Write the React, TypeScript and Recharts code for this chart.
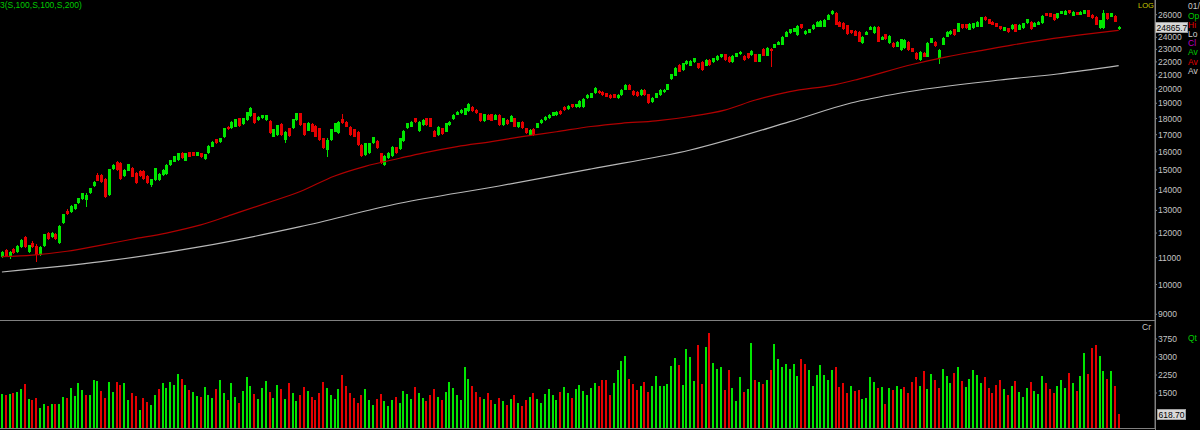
import { ComposedChart, BarChart, Bar, Line, XAxis, YAxis } from "recharts";

const GREEN = "#00e600";
const RED = "#e60000";
const AXIS_GRAY = "#808080";
const TEXT_GRAY = "#c4c4c4";
const FONT = "'Liberation Sans', Arial, sans-serif";

// open, high, low, close
const CANDLES: [number, number, number, number][] = [
  [11040, 11280, 10990, 11235], [11300, 11330, 11040, 11060], [11040, 11260, 10930, 11235], [11340, 11380, 11150, 11170],
  [11235, 11490, 11200, 11460], [11435, 11730, 11400, 11708], [11820, 11870, 11400, 11435], [11235, 11520, 11168, 11500],
  [11600, 11650, 11380, 11410], [11475, 11540, 10845, 11100], [11100, 11470, 11060, 11435], [11475, 11960, 11440, 11945],
  [12015, 12060, 11710, 11735], [11847, 12040, 11800, 12015], [11945, 11990, 11700, 11735], [11600, 12350, 11560, 12320],
  [12420, 12850, 12380, 12840], [12990, 13050, 12800, 12820], [12945, 13230, 12900, 13210], [13050, 13300, 13000, 13290],
  [13330, 13600, 13300, 13570], [13520, 13850, 13480, 13813], [13500, 13810, 13180, 13730], [13845, 14100, 13800, 14076],
  [14200, 14450, 14150, 14395], [14760, 14850, 14420, 14450], [14740, 14800, 14320, 14360], [14515, 14560, 13600, 13651],
  [13730, 15050, 13700, 15037], [15040, 15300, 15000, 15270], [15430, 15500, 14960, 15002], [15400, 15450, 14500, 14530],
  [14690, 15050, 14650, 15002], [14965, 15350, 14930, 15325], [15090, 15150, 14620, 14652], [14826, 14880, 14300, 14345],
  [14967, 15000, 14650, 14690], [14950, 15000, 14500, 14530], [14690, 14720, 14300, 14345], [14227, 14540, 14150, 14515],
  [14480, 15100, 14440, 15090], [14480, 14820, 14450, 14790], [14740, 15030, 14700, 15002], [14790, 15300, 14750, 15270],
  [15270, 15560, 15240, 15543], [15450, 15790, 15420, 15764], [15543, 15950, 15500, 15914], [15950, 15990, 15600, 15635],
  [15506, 15950, 15470, 15914], [15970, 16010, 15700, 15727], [15970, 16000, 15740, 15764], [15783, 16010, 15750, 15970],
  [15914, 15950, 15660, 15690], [15580, 15900, 15540, 15876], [15914, 16370, 15880, 16333], [16294, 16620, 16260, 16585],
  [16722, 16760, 16450, 16487], [16545, 16810, 16500, 16782], [16841, 17400, 16800, 17386], [17489, 17530, 17300, 17325],
  [17386, 17850, 17350, 17801], [17489, 17980, 17450, 17950], [18014, 18060, 17500, 17530], [17655, 18050, 17620, 18014],
  [17907, 18450, 17870, 18400], [18163, 18720, 18130, 18663], [18335, 18380, 17650, 17697], [17907, 18160, 17870, 18120],
  [18014, 18260, 17980, 18227], [17907, 18260, 17870, 18227], [17865, 17900, 17040, 17081], [16881, 17350, 16840, 17325],
  [16980, 17620, 16940, 17593], [17655, 17700, 16940, 16980], [16683, 17200, 16487, 17182], [17386, 17420, 16880, 16920],
  [17386, 17980, 17350, 17950], [17907, 18380, 17870, 18335], [18335, 18380, 17550, 17593], [17697, 17740, 16940, 16980],
  [17243, 17780, 17200, 17740], [17655, 17700, 17150, 17182], [17530, 17570, 16840, 16881], [17386, 17420, 16640, 16683],
  [16782, 16820, 16150, 16198], [16103, 16800, 15727, 16683], [16683, 17350, 16640, 17325], [17182, 17740, 17150, 17697],
  [17081, 17850, 17040, 17801], [17950, 18300, 17660, 17697], [17801, 17850, 17450, 17489], [17489, 17530, 16940, 16980],
  [17325, 17370, 16840, 16881], [17182, 17220, 16350, 16390], [16390, 16430, 15730, 15764], [15820, 16530, 15780, 16487],
  [15914, 16530, 15880, 16487], [16487, 16880, 16450, 16841], [16643, 16680, 16150, 16198], [15914, 15950, 15320, 15360],
  [15270, 15800, 15230, 15764], [15635, 15990, 15600, 15952], [15764, 16330, 15720, 16294], [16255, 16300, 15880, 15914],
  [16141, 16830, 16100, 16782], [16625, 17270, 16580, 17225], [17388, 17740, 17350, 17700], [17491, 17850, 17450, 17804],
  [18015, 18060, 17720, 17762], [17225, 17850, 17180, 17804], [17594, 17960, 17550, 17909], [18015, 18060, 17550, 17594],
  [18015, 18060, 17450, 17491], [17225, 17260, 16840, 16880], [16981, 17540, 16940, 17491], [17388, 17430, 16980, 17022],
  [17184, 17750, 17140, 17699], [17594, 17850, 17560, 17804], [17951, 18270, 17910, 18229], [18229, 18490, 18200, 18445],
  [18337, 18600, 18300, 18554], [18229, 18710, 18200, 18664], [18489, 19000, 18450, 18953], [18775, 18820, 18450, 18489],
  [18554, 18600, 18300, 18337], [18337, 18380, 17800, 17846], [17846, 18320, 17800, 18272], [18229, 18270, 17880, 17930],
  [18272, 18310, 17830, 17867], [17930, 18270, 17890, 18229], [18229, 18270, 17550, 17594], [17594, 18060, 17550, 18015],
  [17909, 17950, 17620, 17657], [17804, 18230, 17760, 18186], [18015, 18060, 17450, 17491], [17450, 17800, 17410, 17762],
  [17804, 17850, 17350, 17388], [17388, 17430, 17040, 17082], [16981, 17330, 16940, 17286], [17347, 17390, 16940, 16981],
  [17429, 17740, 17390, 17699], [17699, 17960, 17660, 17909], [17909, 18160, 17870, 18122], [18015, 18270, 17980, 18229],
  [18186, 18450, 18150, 18402], [18229, 18490, 18190, 18445], [18489, 18530, 18230, 18272], [18775, 18820, 18500, 18554],
  [18620, 18880, 18580, 18819], [18931, 18980, 18700, 18753], [18731, 18980, 18690, 18931], [18731, 19200, 18690, 19155],
  [18753, 19340, 18710, 19291], [19337, 19620, 19300, 19567], [19383, 19730, 19340, 19683], [19683, 20130, 19640, 20081],
  [19869, 19910, 19640, 19683], [19799, 19840, 19530, 19567], [19683, 19720, 19410, 19452], [19567, 19610, 19300, 19337],
  [19613, 19650, 19340, 19383], [19337, 19610, 19300, 19567], [19567, 19960, 19530, 19916], [19916, 20320, 19880, 20272],
  [20272, 20320, 19880, 19916], [19846, 19890, 19530, 19567], [19799, 19840, 19460, 19498], [19567, 19960, 19530, 19916],
  [19916, 19960, 19530, 19567], [19613, 19650, 18950, 18998], [19064, 19430, 19020, 19383], [19383, 19730, 19340, 19683],
  [19567, 19960, 19530, 19916], [19755, 19960, 19720, 19916], [19916, 20370, 19880, 20320], [20683, 21100, 20640, 21051],
  [20953, 21600, 20910, 21553], [21759, 21800, 21210, 21251], [21376, 21940, 21330, 21887], [21810, 22120, 21770, 22069],
  [21708, 22120, 21660, 22069], [21965, 22330, 21920, 22278], [21887, 21930, 21460, 21503], [22017, 22060, 21330, 21376],
  [21708, 22200, 21660, 22147], [22147, 22190, 21720, 21759], [21965, 22330, 21920, 22278], [22147, 22540, 22100, 22490],
  [22357, 22640, 22320, 22596], [22596, 22640, 22100, 22147], [22410, 22450, 21920, 21965], [21965, 22540, 21920, 22490],
  [22410, 22720, 22370, 22676], [22596, 22860, 22560, 22810], [22490, 22530, 22100, 22147], [22676, 22720, 22230, 22278],
  [22543, 22910, 22500, 22863], [22596, 22640, 21970, 22017], [22017, 22640, 21970, 22596], [23027, 23070, 22440, 22490],
  [22490, 23180, 22440, 23135], [23050, 23100, 21600, 22900], [23136, 23470, 23100, 23410], [23354, 23680, 23320, 23632],
  [23354, 24110, 23320, 24055], [24055, 24500, 24020, 24427], [24341, 24740, 24300, 24688], [24485, 24830, 24450, 24776],
  [24198, 25040, 24150, 24982], [25130, 25180, 24730, 24776], [24255, 24630, 24220, 24572], [24398, 24740, 24360, 24688],
  [24688, 25120, 24650, 25071], [24923, 25420, 24890, 25368], [24923, 25510, 24890, 25458], [24923, 25570, 24890, 25518],
  [25518, 26020, 25480, 25974], [26035, 26430, 26000, 26375], [26190, 26240, 25030, 25071], [25368, 25420, 24880, 24923],
  [25278, 25320, 24640, 24688], [25071, 25110, 24210, 24255], [24630, 24670, 24300, 24341], [24543, 24590, 24080, 24113],
  [24485, 24530, 23590, 23634], [23495, 24100, 23450, 24056], [24198, 24530, 24160, 24485], [24630, 24970, 24590, 24923],
  [24341, 24970, 24300, 24923], [24923, 24970, 23590, 23634], [23774, 24100, 23740, 24056], [24255, 24300, 23790, 23831],
  [23495, 24160, 23450, 24113], [23550, 23590, 23120, 23164], [23219, 23680, 23180, 23634], [22947, 23880, 22900, 23831],
  [23082, 23820, 23040, 23774], [23634, 23680, 22900, 22947], [23082, 23120, 22770, 22812], [22731, 22770, 22160, 22202],
  [22149, 22860, 22100, 22812], [22731, 22770, 22370, 22412], [22412, 23600, 22370, 23550], [23550, 23950, 23510, 23915],
  [23634, 23680, 23230, 23274], [22280, 22990, 21850, 22947], [23357, 24020, 23320, 23971], [24056, 24530, 24020, 24485],
  [24255, 24630, 24220, 24572], [24688, 24740, 24120, 24170], [24485, 25270, 24450, 25219], [25160, 25200, 24730, 24776],
  [25160, 25200, 24730, 24776], [24630, 25210, 24590, 25160], [24776, 25270, 24740, 25219], [24923, 25420, 24890, 25368],
  [24923, 25810, 24890, 25760], [25821, 25870, 25470, 25518], [25579, 25620, 25120, 25160], [25368, 25410, 25030, 25071],
  [25219, 25260, 24880, 24923], [24982, 25020, 24640, 24688], [24572, 24910, 24530, 24864], [24776, 24820, 24380, 24427],
  [24688, 25120, 24650, 25071], [25160, 25200, 24440, 24485], [24630, 25120, 24590, 25071], [24776, 25270, 24740, 25219],
  [25219, 25620, 25180, 25579], [25368, 25410, 24640, 24688], [24923, 25330, 24890, 25278], [25071, 25420, 25030, 25368],
  [25219, 25970, 25180, 25912], [26127, 26170, 25850, 25884], [26127, 26170, 25780, 25821], [26065, 26110, 25470, 25518],
  [25669, 26170, 25630, 26127], [26065, 26390, 26030, 26343], [25974, 26420, 25940, 26375], [26437, 26480, 26080, 26127],
  [25884, 26330, 25850, 26280], [26218, 26260, 25940, 25974], [25974, 26330, 25940, 26280], [26065, 26480, 26030, 26437],
  [26437, 26480, 25780, 25821], [25974, 26020, 25630, 25669], [25821, 25870, 25030, 25071], [24776, 25560, 24740, 25518],
  [24776, 26440, 24740, 26127], [26127, 26170, 25560, 25609], [25821, 26170, 25780, 26127], [25884, 25930, 25330, 25368],
  [24700, 25000, 24650, 24866],
];

// volume in crores, one per candle
const VOLUME: number[] = [
  1473, 1403, 1445, 1501, 1529, 1683, 1892, 1236, 1222, 1306, 873, 1026, 943, 1054, 1054, 1026, 1334, 1306, 1724, 1389,
  1934, 1613, 1417, 1417, 2032, 2004, 1585, 1306, 1948, 1557, 1948, 1822, 1920, 1222, 1501, 1361, 803, 1306, 1124, 998,
  1403, 1683, 1920, 1724, 1976, 1822, 2311, 2074, 1822, 1641, 1529, 1361, 1334,
  1750, 1400, 1300, 1650, 2050, 1500, 1200, 1900, 1350, 1100, 1600, 2150, 1800, 1450, 1250, 1700, 2000, 1550,
  1300, 1850, 1650, 1250, 1900, 1500, 1150, 1400, 1750, 1600, 1350, 1200, 1500, 1950, 1700, 1400, 1250, 1650, 2250, 1800,
  1500, 1300, 1100, 1400, 1650, 1200, 1000, 1250, 1450, 1150, 950, 1200, 1350, 1100, 1600, 1450, 1250, 1750, 1500, 1300,
  1150, 1400, 1650, 1350, 1200, 1550, 1950, 1700, 1400, 1200, 2600, 2100, 1800, 1550, 1350, 1250, 1500, 1200, 1050, 1300,
  1150, 1000, 1250, 1400, 1100, 950, 1200, 1350, 1500, 1250, 1100, 1450, 1650, 1400, 1200, 1550, 1750, 1500, 1300, 1650,
  1850, 1600, 1400, 1700, 1900,
  1780, 2032, 2032, 1403, 1920, 2479, 2842, 3037, 2088, 1892, 1613, 1780, 1976, 1529, 1808, 2227, 1780, 1780, 1892, 2618,
  2953, 2674, 1836, 3344, 3009, 2004, 3484, 1864, 3400, 4014, 2758, 2507, 2563, 1641, 2451, 1725, 1166, 2172, 1557, 1669,
  3595, 2060, 1976, 1864, 2060, 2479, 3540, 2898, 2563, 2702, 2507, 2702, 2227, 2898, 2702, 2451, 1780, 2255, 2674, 2255,
  2060, 2451, 2591, 1752, 1920, 1501, 1780, 1585, 1641, 1250, 1278, 2172, 1976, 1725, 1752, 1026, 1697, 1641, 1808, 1669,
  1750, 1500, 1950, 2150, 1800, 2400, 1650, 2300, 2050, 1700, 2500, 2200, 1900, 2350, 2600, 2000, 1750, 2100, 2450, 2250,
  1900, 2150, 1700, 1500, 1850, 2050, 1650, 1400, 1800, 2000, 1550, 1350, 1700, 1950, 1600, 1450, 2200, 1900, 1650, 1500,
  1800, 2050, 1700, 2350, 1900, 1600, 2200, 3160, 2300, 3370, 3500, 3050, 2410, 2070, 2420, 1800, 619,
];

// moving averages read at candle index
const MA100_AT: [number, number][] = [
  [0, 11040], [8, 11100], [17, 11250], [26, 11500], [34, 11740], [43, 12000], [52, 12350], [60, 12800],
  [69, 13330], [78, 13900], [87, 14690], [95, 15200], [104, 15640], [110, 15930], [119, 16300], [128, 16590],
  [136, 16880], [145, 17180], [154, 17500], [162, 17700], [171, 17850], [180, 18130], [189, 18550], [197, 19220],
  [206, 19800], [218, 20300], [224, 20700], [238, 21800], [247, 22400], [256, 22900], [264, 23350], [273, 23800],
  [282, 24200], [292, 24600],
];
const MA200_AT: [number, number][] = [
  [0, 10454], [26, 10842], [52, 11434], [78, 12273], [104, 13334], [130, 14176], [154, 15056], [180, 16103],
  [206, 17801], [222, 19020], [235, 19706], [261, 20633], [276, 21076], [292, 21705],
];

// 25000 and 750 sit under the last-value boxes in the original, so they are not drawn
const PRICE_TICKS = [9000, 10000, 11000, 12000, 13000, 14000, 15000, 16000, 17000, 18000, 19000, 20000, 21000, 22000, 23000, 24000, 26000];
const VOLUME_TICKS = [1500, 2250, 3000, 3750];
const LAST_PRICE = "24865.7";
const LAST_VOLUME = "618.70";
const EMPTY_SLOTS = 9;

const ma100 = new Map(MA100_AT);
const ma200 = new Map(MA200_AT);

const rows: any[] = CANDLES.map(([o, h, l, c], i) => ({
  i,
  o,
  h,
  l,
  c,
  range: [l, h],
  vol: VOLUME[i],
  volUp: i === 0 ? true : c >= CANDLES[i - 1][3],
  ma100: ma100.get(i) ?? null,
  ma200: ma200.get(i) ?? null,
}));
for (let k = 0; k < EMPTY_SLOTS; k++) {
  rows.push({ i: CANDLES.length + k, range: null, vol: null, ma100: null, ma200: null });
}

function Candle(props: any) {
  const { x, y, width, height, payload } = props;
  if (!payload || payload.o == null) return null;
  const { o, h, l, c } = payload;
  const cx = Math.round(x + width / 2);
  const span = Math.log(h) - Math.log(l);
  const py = (v: number) => (span > 0 ? y + (height * (Math.log(h) - Math.log(v))) / span : y);
  const color = c >= o ? GREEN : RED;
  const top = Math.round(py(Math.max(o, c)));
  const bot = Math.round(py(Math.min(o, c)));
  const wTop = Math.round(y);
  const wBot = Math.round(y + height);
  return (
    <g>
      <rect x={cx} y={wTop} width={1} height={Math.max(1, wBot - wTop)} fill={color} />
      <rect x={cx - 1} y={top} width={3} height={Math.max(1, bot - top)} fill={color} />
    </g>
  );
}

function VolumeBar(props: any) {
  const { x, y, width, height, payload } = props;
  if (!payload || payload.vol == null) return null;
  const cx = Math.round(x + width / 2);
  const top = Math.round(y);
  const bot = Math.round(y + height);
  return <rect x={cx - 1} y={top} width={2} height={Math.max(1, bot - top)} fill={payload.volUp ? GREEN : RED} />;
}

const tickStyle = { fill: TEXT_GRAY, fontSize: 8.5, fontFamily: FONT };

const SIDE_LABELS = [
  { t: "01/", c: "#c8c8c8", y: 9 },
  { t: "Op", c: "#00cc00", y: 18.5 },
  { t: "Hi", c: "#e00000", y: 27.5 },
  { t: "Lo", c: "#d0d0d0", y: 36.5 },
  { t: "Cl", c: "#c000c0", y: 46 },
  { t: "Av", c: "#00cc00", y: 55 },
  { t: "Av", c: "#e00000", y: 64.5 },
  { t: "Av", c: "#d0d0d0", y: 74 },
];

export default function App() {
  return (
    <div style={{ position: "relative", width: 1200, height: 430, background: "#000", overflow: "hidden" }}>
      <style>{`body{margin:0;background:#000}`}</style>
      <div style={{ position: "absolute", left: 0, top: 0 }}>
        <ComposedChart width={1200} height={320} data={rows} margin={{ top: 0, right: 0, bottom: 0, left: 0 }}>
          <XAxis dataKey="i" type="category" hide />
          <YAxis
            orientation="right"
            width={45}
            type="number"
            scale="log"
            domain={[8820, 27390]}
            allowDataOverflow
            ticks={PRICE_TICKS}
            interval={0}
            tick={tickStyle}
            tickSize={2}
            tickMargin={1}
            axisLine={{ stroke: AXIS_GRAY }}
            tickLine={{ stroke: AXIS_GRAY }}
          />
          <Line
            type="monotone"
            dataKey="ma200"
            stroke="#b8b8b8"
            strokeWidth={1.2}
            dot={false}
            activeDot={false}
            connectNulls
            isAnimationActive={false}
          />
          <Line
            type="monotone"
            dataKey="ma100"
            stroke="#b00000"
            strokeWidth={1.2}
            dot={false}
            activeDot={false}
            connectNulls
            isAnimationActive={false}
          />
          <Bar dataKey="range" shape={<Candle />} activeBar={false} isAnimationActive={false} />
        </ComposedChart>
      </div>
      <div style={{ position: "absolute", left: 0, top: 321 }}>
        <BarChart width={1200} height={108} data={rows} margin={{ top: 0, right: 0, bottom: 0, left: 0 }}>
          <XAxis dataKey="i" type="category" hide />
          <YAxis
            orientation="right"
            width={45}
            type="number"
            domain={[0, 4500]}
            allowDataOverflow
            ticks={VOLUME_TICKS}
            interval={0}
            tick={tickStyle}
            tickSize={2}
            tickMargin={1}
            axisLine={{ stroke: AXIS_GRAY }}
            tickLine={{ stroke: AXIS_GRAY }}
          />
          <Bar dataKey="vol" shape={<VolumeBar />} activeBar={false} isAnimationActive={false} />
        </BarChart>
      </div>
      <svg width={1200} height={430} style={{ position: "absolute", left: 0, top: 0, pointerEvents: "none" }} fontFamily={FONT}>
        <line x1={0} x2={1155} y1={320.5} y2={320.5} stroke={AXIS_GRAY} />
        <line x1={0} x2={1155} y1={428.5} y2={428.5} stroke={AXIS_GRAY} />
        <line x1={1155.5} x2={1155.5} y1={0} y2={430} stroke={AXIS_GRAY} />
        <text x={0} y={8} fontSize={8.5} fill="#00cc00">3(S,100,S,100,S,200)</text>
        <text x={1138} y={7.5} fontSize={7.5} fill="#c8c800">LOG</text>
        {SIDE_LABELS.map((s, k) => (
          <text key={k} x={1188} y={s.y} fontSize={8.5} fill={s.c}>{s.t}</text>
        ))}
        <rect x={1155.5} y={22.5} width={32} height={10} fill="#d8d8d8" stroke="#a0a0a0" />
        <text x={1156.5} y={30.8} fontSize={8.5} fill="#000">{LAST_PRICE}</text>
        <text x={1142} y={330} fontSize={8.5} fill={TEXT_GRAY}>Cr</text>
        <text x={1188} y={341} fontSize={8.5} fill="#00cc00">Qt</text>
        <rect x={1157.5} y={409.5} width={28} height={10} fill="#d8d8d8" stroke="#a0a0a0" />
        <text x={1158.5} y={417.8} fontSize={8.5} fill="#000">{LAST_VOLUME}</text>
      </svg>
    </div>
  );
}
